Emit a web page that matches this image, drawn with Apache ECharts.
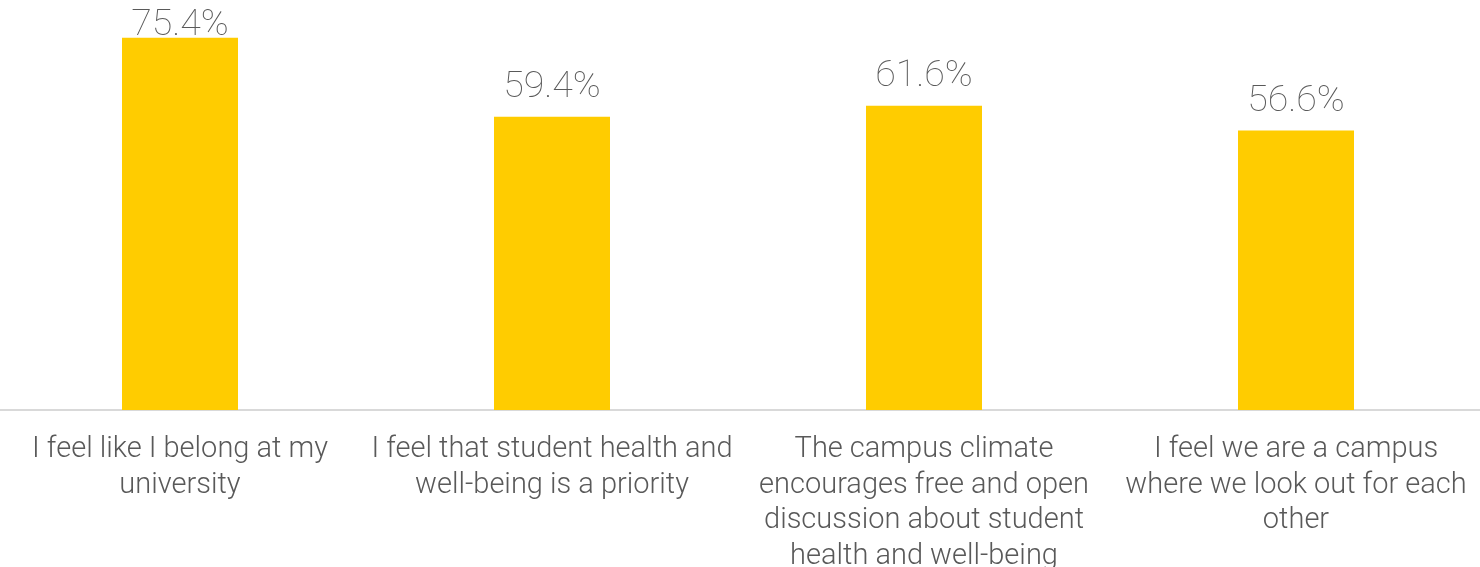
<!DOCTYPE html>
<html>
<head>
<meta charset="utf-8">
<script src="https://cdn.jsdelivr.net/npm/echarts@6/dist/echarts.min.js"></script>
<style>
  html, body { margin: 0; padding: 0; background: #ffffff; }
  #chart { width: 1480px; height: 567px; }
</style>
</head>
<body>
<div id="chart"></div>
<script>
// Survey statements (line breaks as laid out under each bar)
const categories = [
  'I feel like I belong at my\nuniversity',
  'I feel that student health and\nwell-being is a priority',
  'The campus climate\nencourages free and open\ndiscussion about student\nhealth and well-being',
  'I feel we are a campus\nwhere we look out for each\nother'
];
// Share of students agreeing, in percent
const agreePct = [75.4, 59.4, 61.6, 56.6];

const AXIS_MAX = 80;

// The tallest bar's label sits tight on the bar so it stays inside the canvas
const barData = agreePct.map(v => ({
  value: v,
  label: { distance: v >= AXIS_MAX - 6 ? -7 : 10 }
}));

const chart = echarts.init(document.getElementById('chart'), null, { renderer: 'canvas' });

chart.setOption({
  animation: false,
  backgroundColor: '#ffffff',
  grid: {
    left: -6, top: 15, width: 1488, height: 395,
    containLabel: false,
    outerBoundsMode: 'none'
  },
  xAxis: {
    type: 'category',
    data: categories,
    axisLine: { show: true, lineStyle: { color: '#d9d9d9', width: 2 } },
    axisTick: { show: false },
    axisLabel: {
      interval: 0,
      margin: 22,
      color: '#595959',
      fontFamily: 'Roboto',
      fontWeight: 300,
      fontSize: 29,
      lineHeight: 35.5
    }
  },
  yAxis: {
    type: 'value',
    min: 0,
    max: AXIS_MAX,
    show: false,
    splitLine: { show: false }
  },
  series: [{
    type: 'bar',
    data: barData,
    barWidth: 116,
    itemStyle: { color: '#ffcc00' },
    label: {
      show: true,
      position: 'top',
      formatter: p => p.value.toFixed(1) + '%',
      color: '#595959',
      fontFamily: 'Roboto',
      fontWeight: 100,
      fontSize: 37.5,
      lineHeight: 38
    }
  }]
});
</script>
</body>
</html>
